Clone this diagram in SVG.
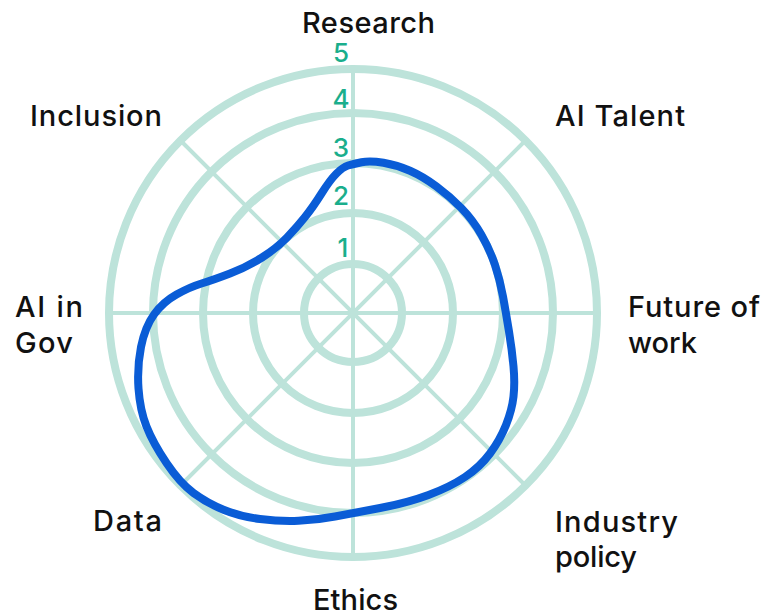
<svg xmlns="http://www.w3.org/2000/svg" width="764" height="616" viewBox="0 0 764 616">
  <style>
    .ring { fill: none; stroke: #bde3da; stroke-width: 8; }
    .spoke { stroke: #bde3da; stroke-width: 4; }
    .lbl { font-family: Inter, "Liberation Sans", sans-serif; font-size: 29px; font-weight: 500; fill: #111111; }
    .num { font-family: Inter, "Liberation Sans", sans-serif; font-size: 26px; font-weight: 500; fill: #1aae8c; text-anchor: middle; }
    .series { fill: none; stroke: #0a5cd6; stroke-width: 8; stroke-linejoin: round; }
  </style>
  <rect width="764" height="616" fill="#ffffff"/>
  <g id="grid">
    <circle class="ring" cx="353" cy="313" r="49"/>
    <circle class="ring" cx="353" cy="313" r="100"/>
    <circle class="ring" cx="353" cy="313" r="150"/>
    <circle class="ring" cx="353" cy="313" r="200"/>
    <circle class="ring" cx="353" cy="313" r="244"/>
    <line class="spoke" x1="353" y1="69" x2="353" y2="557"/>
    <line class="spoke" x1="109" y1="313" x2="597" y2="313"/>
    <line class="spoke" x1="180.5" y1="140.5" x2="525.5" y2="485.5"/>
    <line class="spoke" x1="525.5" y1="140.5" x2="180.5" y2="485.5"/>
  </g>
  <g id="scale">
    <text class="num" x="341" y="62">5</text>
    <text class="num" x="341" y="108">4</text>
    <text class="num" x="341" y="157">3</text>
    <text class="num" x="341" y="205">2</text>
    <text class="num" x="343" y="257">1</text>
  </g>
  <g id="connectors">
    <path class="series" d="M 348,165.5 Q 353,164 361.5,162.25 Q 370,160.5 383.5,162.75 Q 397,165 410,170.75 Q 423,176.5 436.5,186.5 Q 450,196.5 461.5,208.25 Q 473,220 481.5,235 Q 490,250 495,265 Q 500,280 503,296.5 Q 506,313 509,331.5 Q 512,350 513.5,366.5 Q 515,383 513.5,396.5 Q 512,410 506,425 Q 500,440 490,453.5 Q 480,467 465,477 Q 450,487 428.5,495 Q 407,503 380,508 Q 353,513 335,516.5 Q 317,520 298.5,520.75 Q 280,521.5 260,519 Q 240,516.5 223.5,509.75 Q 207,503 193.5,493 Q 180,483 166.5,463 Q 153,443 146.5,426.5 Q 140,410 138.5,388.5 Q 137,367 141,347 Q 145,327 154,314.5 Q 163,302 176.5,294.5 Q 190,287 201.5,283.5 Q 213,280 230,273.5 Q 247,267 262,257.5 Q 277,248 287,237.5 Q 297,227 305,217 Q 313,207 321.5,193.5 Q 330,180 336.5,173.5 Q 343,167 348,165.5 Z"/>
  </g>
  <g id="research"><text class="lbl" x="302" y="33" textLength="133" lengthAdjust="spacing">Research</text></g>
  <g id="ai-talent"><text class="lbl" x="555" y="126" textLength="130" lengthAdjust="spacing">AI Talent</text></g>
  <g id="inclusion"><text class="lbl" x="30" y="126" textLength="132" lengthAdjust="spacing">Inclusion</text></g>
  <g id="future-of-work">
    <text class="lbl" x="628" y="317" textLength="132" lengthAdjust="spacing">Future of</text>
    <text class="lbl" x="628" y="353" textLength="69" lengthAdjust="spacing">work</text>
  </g>
  <g id="ai-in-gov">
    <text class="lbl" x="15" y="317" textLength="68" lengthAdjust="spacing">AI in</text>
    <text class="lbl" x="15" y="353" textLength="58" lengthAdjust="spacing">Gov</text>
  </g>
  <g id="data"><text class="lbl" x="93" y="531" textLength="69" lengthAdjust="spacing">Data</text></g>
  <g id="industry-policy">
    <text class="lbl" x="555" y="532" textLength="123" lengthAdjust="spacing">Industry</text>
    <text class="lbl" x="555" y="567" textLength="82" lengthAdjust="spacing">policy</text>
  </g>
  <g id="ethics"><text class="lbl" x="313" y="610" textLength="85" lengthAdjust="spacing">Ethics</text></g>
</svg>
